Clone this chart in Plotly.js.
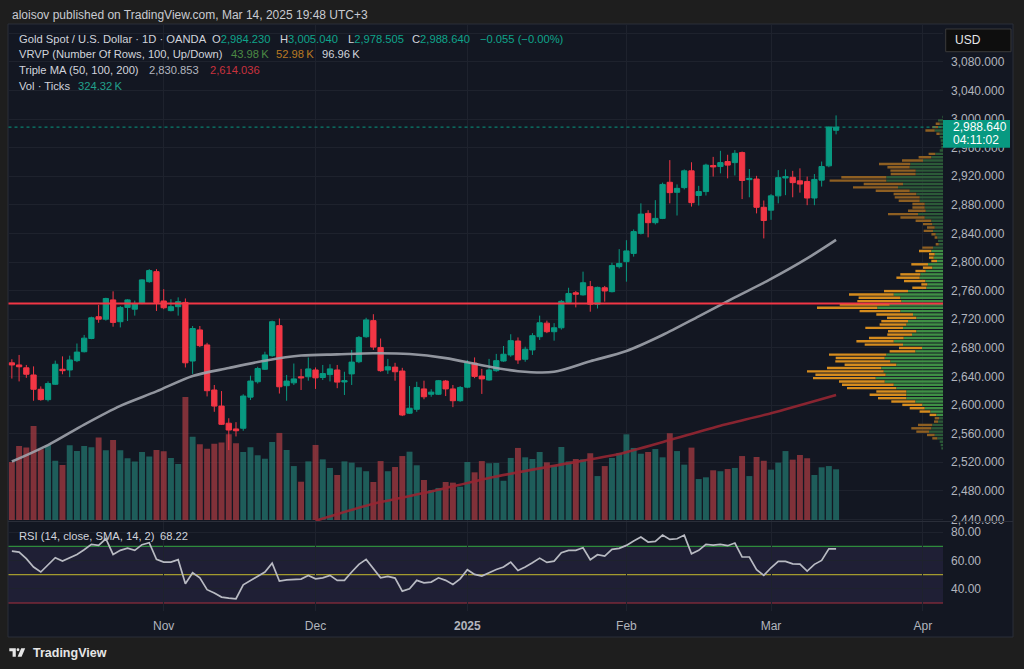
<!DOCTYPE html>
<html><head><meta charset="utf-8">
<script src="https://cdn.plot.ly/plotly-3.0.1.min.js"></script>
<style>html,body{margin:0;padding:0;background:#1e1e1e;overflow:hidden}#chart{width:1024px;height:669px}</style>
</head><body><div id="chart"></div>
<script>
// ---------------- DATA ----------------
const holidays = ['2024-12-25', '2025-01-01'];
const firstBar = '2024-10-03';
const monthKeys = ['2024-11', '2024-12', '2025-01', '2025-02', '2025-03', '2025-04'];
const monthLabels = ['Nov', 'Dec', '<b>2025</b>', 'Feb', 'Mar', 'Apr'];

const open = [
2659, 2656, 2652, 2642, 2622, 2607.5, 2629, 2650, 2649, 2662,
2674.5, 2693, 2723.5, 2720, 2747, 2716.5, 2736.5, 2734, 2742, 2772.5,
2786.5, 2745.5, 2732, 2737.5, 2743.5, 2661.5, 2705, 2684, 2621, 2598.5,
2574.5, 2566.5, 2567.5, 2611, 2632.5, 2650, 2669, 2711, 2627, 2631,
2639.5, 2639.5, 2649, 2638.5, 2642.5, 2649, 2632.2, 2643.5, 2660.5, 2695.5,
2718, 2680.5, 2649, 2653, 2647.5, 2588.5, 2594, 2622.5, 2615, 2615,
2633.5, 2622.5, 2606, 2625, 2658.5, 2640.5, 2635, 2648, 2661.5, 2670,
2689.5, 2664, 2677, 2695.5, 2714.5, 2702.5, 2708, 2743.5, 2757, 2754,
2765.5, 2741, 2764, 2758.5, 2793.5, 2800.5, 2812, 2840, 2868, 2855,
2861, 2911.5, 2897.5, 2904, 2927.5, 2893, 2898.5, 2935, 2933.5, 2940.5,
2939, 2953, 2915.2, 2916, 2876.5, 2872.5, 2892.5, 2917.5, 2918.5, 2913.5,
2912.5, 2889.5, 2914.5, 2934.5, 2984.230];
const high = [
2664, 2670, 2656, 2654, 2626, 2633, 2662, 2668, 2669, 2686,
2698, 2723.5, 2740, 2750, 2759, 2738.5, 2748, 2746, 2776, 2790,
2790, 2762, 2748, 2750.5, 2749, 2710.5, 2710.5, 2687, 2628, 2619.5,
2581.5, 2576, 2615, 2641, 2653.5, 2674.5, 2718, 2721, 2642, 2658,
2650.5, 2666.5, 2652.5, 2656, 2657, 2656, 2646.5, 2677, 2696.5, 2722,
2727, 2693, 2664.5, 2659, 2652, 2626.5, 2632.5, 2634, 2622, 2635,
2635, 2628, 2626.5, 2663, 2666.5, 2650.5, 2664.5, 2671.5, 2682.5, 2699,
2694.5, 2681.5, 2700.5, 2725, 2718, 2714.5, 2747, 2764, 2759.5, 2786.5,
2773.5, 2765.5, 2766.5, 2799, 2818, 2830.5, 2845.5, 2882, 2872.5, 2886.5,
2911, 2942.5, 2908.5, 2929.5, 2939.5, 2906.5, 2937.5, 2947, 2955.5, 2950,
2956.5, 2954.5, 2930, 2920.5, 2886, 2895, 2928.5, 2929.5, 2927.5, 2931,
2919.5, 2923, 2940.5, 2989.5, 3005.040];
const low = [
2637, 2633, 2638, 2606, 2606, 2605, 2628, 2643, 2639, 2660,
2673.5, 2692, 2715, 2718, 2709.5, 2708.5, 2717.5, 2725, 2741, 2771,
2731.5, 2734, 2731, 2725, 2652.5, 2643.5, 2681, 2612, 2590.5, 2572,
2537, 2556, 2564, 2607, 2630, 2649, 2667.5, 2616, 2606, 2628,
2621, 2634, 2622.5, 2635, 2633, 2623.5, 2614, 2628, 2658.5, 2694,
2677, 2646.5, 2643.5, 2634, 2584.5, 2587.5, 2590.5, 2608, 2611.5, 2614,
2612.5, 2597, 2604.5, 2623.5, 2637.5, 2615.5, 2634, 2646.5, 2660.5, 2667.5,
2657.5, 2660.5, 2670, 2691, 2700.5, 2690, 2705.5, 2742, 2736.5, 2753,
2730.5, 2735, 2744.5, 2757.5, 2791, 2772.5, 2807.5, 2838.5, 2834.5, 2852.5,
2860, 2882, 2865, 2901.5, 2877.5, 2879, 2893, 2919.5, 2924, 2917,
2921, 2888, 2890.5, 2868, 2833, 2859, 2882, 2893.5, 2890.5, 2897,
2879.5, 2879.5, 2905.5, 2932.5, 2978.505];
const close = [
2656, 2653.5, 2643, 2622, 2607.5, 2630, 2657, 2648, 2663, 2674,
2693.5, 2722, 2720, 2749, 2715.5, 2736.5, 2747, 2742, 2775, 2788,
2743.5, 2736, 2737.5, 2744.5, 2659, 2707, 2683, 2620, 2598.5, 2573,
2565, 2564, 2612.5, 2633.5, 2651, 2670, 2716.5, 2625.5, 2633.5, 2636.5,
2638, 2650.5, 2638, 2644, 2650.5, 2632, 2634, 2660, 2694.5, 2719,
2681, 2648, 2653.5, 2646.5, 2586, 2595.5, 2624.5, 2611.5, 2618, 2634,
2622.5, 2606, 2624.5, 2659, 2640, 2636.5, 2649, 2662, 2671, 2690,
2663, 2678, 2697, 2715, 2702.5, 2708, 2745, 2756, 2755, 2771,
2741, 2764.5, 2759.5, 2795, 2798, 2815.5, 2842.5, 2867, 2855, 2861,
2908.5, 2897, 2903, 2927.5, 2883, 2898.5, 2935.5, 2933, 2939, 2935.5,
2952, 2914, 2917, 2876.5, 2858, 2892.5, 2918, 2919.5, 2911, 2909,
2889.5, 2915.5, 2933.5, 2988.695, 2988.640];
// Volume (ticks, thousands)
const volume = [
371, 474, 463, 601, 452, 480, 379, 352, 478, 441,
473, 465, 527, 446, 512, 446, 395, 375, 435, 407,
448, 439, 397, 358, 787, 533, 484, 456, 488, 495,
548, 491, 435, 465, 414, 392, 499, 557, 448, 345,
245, 375, 480, 388, 333, 288, 375, 367, 337, 312,
243, 377, 312, 339, 409, 437, 350, 256, 192, 205,
243, 239, 213, 371, 305, 377, 363, 365, 251, 397,
461, 401, 390, 435, 369, 350, 467, 375, 390, 388,
427, 281, 345, 397, 429, 548, 461, 424, 435, 454,
401, 555, 441, 354, 463, 262, 273, 318, 312, 326,
333, 409, 281, 403, 379, 322, 367, 441, 386, 416,
395, 288, 337, 345, 324.32];
// RSI(14)
const rsi = [
66.7, 66.0, 61.3, 55.4, 51.9, 57.3, 62.0, 59.6, 62.0, 64.3,
67.6, 71.4, 70.7, 75.4, 64.3, 67.2, 68.8, 67.2, 71.2, 72.6,
60.8, 58.9, 58.9, 60.6, 43.6, 51.4, 47.8, 39.4, 37.0, 34.2,
33.5, 33.0, 42.9, 46.0, 48.8, 51.9, 58.2, 45.5, 46.4, 46.7,
46.9, 49.5, 47.1, 47.8, 49.5, 46.0, 46.0, 51.9, 57.3, 60.8,
54.2, 47.8, 48.8, 47.6, 38.4, 40.1, 46.0, 44.3, 44.8, 47.8,
46.0, 43.1, 47.1, 53.5, 50.2, 49.0, 51.4, 53.7, 55.4, 58.9,
53.0, 55.4, 58.4, 61.7, 58.7, 59.6, 65.5, 67.2, 67.2, 69.0,
60.6, 64.1, 63.2, 67.9, 68.6, 70.7, 73.8, 76.6, 73.1, 73.5,
78.0, 74.9, 75.4, 78.0, 64.8, 67.2, 71.4, 70.9, 71.4, 70.5,
72.4, 62.5, 62.5, 53.5, 49.5, 54.9, 59.4, 59.4, 57.7, 57.5,
52.6, 57.3, 60.1, 68.3, 68.22];
// Moving averages read at sample bars (bar offset from first visible bar)
const ma50Bars = [0, 5, 10, 15, 20, 25, 30, 35, 40, 45, 50, 55, 60, 65, 70, 75, 80, 85, 90, 95, 100, 105, 110, 114];
const ma50 = [2521, 2544, 2572.6, 2598.8, 2619, 2640.6, 2651.7, 2662, 2669.2, 2670.8, 2672.3, 2671.3, 2665.6, 2655.7, 2647.3, 2646.4, 2661.2, 2675.5, 2697.9, 2724, 2750.4, 2776.3, 2805, 2830.853];
const ma100Bars = [42, 50, 58, 66, 75, 84, 91, 98, 105, 114];
const ma100 = [2438, 2462, 2479, 2498, 2515, 2531.5, 2551, 2571, 2588.5, 2614.036];
// Visible-range volume profile (100 rows, top row first): up / down volume
const vpUp = [
0.7, 5, 3.3, 5, 8.3, 3.3, 3.3, 2.3, 1.7, 1.7,
3.3, 7.7, 11.7, 20, 32.7, 33.3, 27.3, 27.3, 56.7, 56.7,
40, 45, 33.3, 26.7, 23.3, 23.3, 18.3, 18.3, 17.3, 25,
18.3, 11.7, 10.7, 8.3, 10, 7.3, 5.7, 5, 4.3, 10,
11.7, 8.3, 9.3, 6, 15, 10.7, 17.3, 22.7, 23.3, 17.7,
15.7, 16.7, 35, 49.3, 42.7, 41.7, 53.3, 65.7, 42.7, 30,
26.7, 35, 36.7, 40, 26.7, 31, 39.3, 49.3, 40, 21,
27.7, 56.7, 58.3, 52.7, 46.7, 61.7, 59.3, 57.3, 67.3, 58.3,
49.3, 46.7, 36.7, 36.7, 36.7, 27.7, 20.7, 18.3, 12.7, 6.7,
4, 5, 10.7, 11.7, 14, 8.3, 5.7, 3.3, 2.3, 1.7];
const vpDown = [
0, 0, 4, 5.7, 9.3, 3.3, 0, 0, 0, 0,
0, 6.7, 12.7, 21, 31.3, 22.3, 25.3, 25, 45, 56.7,
39.3, 45, 34, 22.7, 25, 21, 12.3, 12.3, 17.7, 30,
24.3, 15.7, 9.3, 7.7, 9.3, 4.3, 2.7, 0, 3, 10.7,
12.3, 5.7, 4.7, 5.7, 16.7, 9.3, 10.3, 20, 23.3, 21.3,
6, 14, 24, 44.7, 41.7, 44, 50, 60.3, 40.7, 36.7,
29.3, 26.7, 26.7, 37.7, 28.3, 24.7, 34.7, 37.3, 38.3, 23,
25.7, 57.3, 49, 55, 51.7, 54.3, 76.7, 70.3, 62.7, 45.7,
51.7, 49.3, 30, 36.7, 28.3, 24, 20, 15, 10.7, 6.7,
4.3, 4, 14.3, 20, 12.7, 7.7, 5, 0, 0, 0];
const vrvpLegend = ['43.98\u2009K', '52.98\u2009K', '96.96\u2009K'];
const hLinePrice = 2742;
const priceTicks = [2440, 2480, 2520, 2560, 2600, 2640, 2680, 2720, 2760, 2800, 2840, 2880, 2920, 2960, 3000, 3040, 3080, 3120];
const rsiTicks = [40, 60, 80];
const rsiLevels = [70, 50, 30];
const countdown = '04:11:02';

// ---------------- calendar / helpers ----------------
function buildCalendar(from, to, skip) {
  const out = []; const d = new Date(from + 'T00:00:00Z'); const end = new Date(to + 'T00:00:00Z');
  while (d <= end) { const wd = d.getUTCDay(); const s = d.toISOString().slice(0, 10);
    if (wd !== 0 && wd !== 6 && skip.indexOf(s) < 0) out.push(s); d.setUTCDate(d.getUTCDate() + 1); }
  return out;
}
const calendar = buildCalendar('2024-10-01', '2025-04-30', holidays);
const x0 = calendar.indexOf(firstBar);
const xs = open.map((_, k) => x0 + k);
const monthIdx = monthKeys.map(m => calendar.findIndex(d => d.slice(0, 7) === m));
const n = close.length;

const W = 1024, H = 669;
const PX = x => x / W, PY = y => 1 - y / H;
const UP = '#089981', DN = '#f23645';
const GRID = '#1e222d';
const TXT = '#d1d4dc', AX = '#b2b5be';
const FONT = 'Liberation Sans, Arial, sans-serif';
const fmt = (v, d) => v.toLocaleString('en-US', { minimumFractionDigits: d, maximumFractionDigits: d });

// pane geometry (pixels)
const paneL = 8.5, paneR = 943, mainTop = 24, mainBot = 521, rsiTop = 522, rsiBot = 611;
const pxPerUnit = 0.715, refPrice = 3000, refY = 119;
const priceAt = y => refPrice - (y - refY) / pxPerUnit;
const rsiPx = 1.415, rsiRefY = 574.7;
const rsiAt = y => 50 - (y - rsiRefY) / rsiPx;
const volPx = 6.397;
const barPx = 7.23, novX = 163.7;
const idxAt = x => monthIdx[0] + (x - novX) / barPx;

// ---------------- traces ----------------
const volColors = close.map((c, i) => c >= open[i] ? 'rgba(34,120,112,0.72)' : 'rgba(170,60,66,0.72)');
const traces = [];
traces.push({ type: 'bar', x: xs, y: volume, xaxis: 'x', yaxis: 'y', width: 0.82,
  marker: { color: volColors, line: { width: 0 } }, hoverinfo: 'skip' });
traces.push({ type: 'candlestick', x: xs, open: open, high: high, low: low, close: close, xaxis: 'x', yaxis: 'y2',
  increasing: { line: { color: UP, width: 1 }, fillcolor: UP },
  decreasing: { line: { color: DN, width: 1 }, fillcolor: DN }, whiskerwidth: 0, hoverinfo: 'skip' });
traces.push({ type: 'scatter', mode: 'lines', x: ma50Bars.map(b => x0 + b), y: ma50, xaxis: 'x', yaxis: 'y2',
  line: { color: 'rgba(160,163,172,0.9)', width: 2.6, shape: 'spline', smoothing: 0.8 }, hoverinfo: 'skip' });
traces.push({ type: 'scatter', mode: 'lines', x: ma100Bars.map(b => x0 + b), y: ma100, xaxis: 'x', yaxis: 'y2',
  line: { color: 'rgba(150,38,50,0.9)', width: 2.6, shape: 'spline', smoothing: 0.6 }, hoverinfo: 'skip' });

// volume profile rows
const vpHigh = Math.max.apply(null, high), vpLow = Math.min.apply(null, low);
const rows = vpUp.length, rowH = (vpHigh - vpLow) / rows;
const rowPrice = vpUp.map((_, r) => vpHigh - (r + 0.5) * rowH);
const tot = vpUp.map((u, r) => u + vpDown[r]);
const totalVol = tot.reduce((a, b) => a + b, 0);
let poc = tot.indexOf(Math.max.apply(null, tot));
let lo = poc, hi = poc, acc = tot[poc];
while (acc < 0.7 * totalVol && (lo > 0 || hi < rows - 1)) {
  const a = lo > 0 ? tot[lo - 1] : -1, b = hi < rows - 1 ? tot[hi + 1] : -1;
  if (a >= b) { lo--; acc += tot[lo]; } else { hi++; acc += tot[hi]; }
}
const inVA = r => r >= lo && r <= hi;
traces.push({ type: 'bar', orientation: 'h', y: rowPrice, x: vpUp, base: 0, width: rowH * 0.72,
  xaxis: 'x2', yaxis: 'y2', marker: { color: rowPrice.map((_, r) => inVA(r) ? '#3f8f45' : '#2c5a38'), line: { width: 0 } }, hoverinfo: 'skip' });
traces.push({ type: 'bar', orientation: 'h', y: rowPrice, x: vpDown, base: vpUp, width: rowH * 0.72,
  xaxis: 'x2', yaxis: 'y2', marker: { color: rowPrice.map((_, r) => inVA(r) ? '#d68c1e' : '#8e5f22'), line: { width: 0 } }, hoverinfo: 'skip' });

traces.push({ type: 'scatter', mode: 'lines', x: xs, y: rsi, xaxis: 'x', yaxis: 'y3',
  line: { color: '#b8bac2', width: 1.7 }, hoverinfo: 'skip' });

// ---------------- layout ----------------
const shapes = [];
shapes.push({ type: 'rect', xref: 'paper', yref: 'paper', x0: PX(8), x1: PX(1013), y0: PY(637), y1: PY(24),
  fillcolor: '#131722', line: { color: '#2a2e39', width: 1 }, layer: 'below' });
shapes.push({ type: 'rect', xref: 'paper', yref: 'y3', x0: PX(paneL), x1: PX(paneR), y0: 30, y1: 70,
  fillcolor: 'rgba(126,87,194,0.12)', line: { width: 0 }, layer: 'below' });
const lvlColors = ['#2f8a3c', '#a39a2e', '#a8303f'];
rsiLevels.forEach((v, k) => shapes.push({ type: 'line', xref: 'paper', yref: 'y3', x0: PX(paneL), x1: PX(paneR), y0: v, y1: v,
  line: { color: lvlColors[k], width: 1.2 }, layer: 'below' }));
shapes.push({ type: 'line', xref: 'paper', yref: 'paper', x0: PX(8), x1: PX(1013), y0: PY(521.5), y1: PY(521.5),
  line: { color: '#2a2e39', width: 1 } });
shapes.push({ type: 'line', xref: 'paper', yref: 'y2', x0: PX(paneL), x1: PX(paneR), y0: hLinePrice, y1: hLinePrice,
  line: { color: '#f23645', width: 2 } });
const last = close[n - 1];
shapes.push({ type: 'line', xref: 'paper', yref: 'y2', x0: PX(paneL), x1: PX(paneR), y0: last, y1: last,
  line: { color: UP, width: 1, dash: 'dot' } });
shapes.push({ type: 'rect', xref: 'paper', yref: 'paper', x0: PX(943), x1: PX(1010), y0: PY(147.7), y1: PY(120),
  fillcolor: UP, line: { width: 0 } });
shapes.push({ type: 'rect', xref: 'paper', yref: 'paper', x0: PX(945.7), x1: PX(1011), y0: PY(51.7), y1: PY(29),
  fillcolor: '#0e0e0e', line: { color: '#3a3a3a', width: 1 } });
// TradingView logo
const P = (x, y) => PX(x).toFixed(5) + ',' + PY(y).toFixed(5);
shapes.push({ type: 'path', xref: 'paper', yref: 'paper', fillcolor: '#e6e6e6', line: { width: 0 },
  path: 'M' + P(9.3, 648.3) + 'L' + P(15.8, 648.3) + 'L' + P(15.8, 656.8) + 'L' + P(12.6, 656.8) + 'L' + P(12.6, 651.2) + 'L' + P(9.3, 651.2) + 'Z' });
shapes.push({ type: 'circle', xref: 'paper', yref: 'paper', fillcolor: '#e6e6e6', line: { width: 0 },
  x0: PX(16.6), x1: PX(19.4), y0: PY(651.2), y1: PY(648.3) });
shapes.push({ type: 'path', xref: 'paper', yref: 'paper', fillcolor: '#e6e6e6', line: { width: 0 },
  path: 'M' + P(21.2, 648.3) + 'L' + P(25.2, 648.3) + 'L' + P(21.6, 656.8) + 'L' + P(17.6, 656.8) + 'Z' });

const ann = [];
function A(x, y, text, size, color, extra) {
  ann.push(Object.assign({ xref: 'paper', yref: 'paper', x: PX(x), y: PY(y), xanchor: 'left', yanchor: 'middle',
    text: text, showarrow: false, font: { family: FONT, size: size, color: color } }, extra || {}));
}
A(9.6, 15, 'aloisov published on TradingView.com, Mar 14, 2025 19:48 UTC+3', 12, '#c9cbd1');
const G = '#0fa38a';
A(17, 39.3, 'Gold Spot / U.S. Dollar \u00b7 1D \u00b7 OANDA', 11.2, TXT);
A(209.7, 39.3, 'O<span style="color:' + G + '">' + fmt(open[n - 1], 3) + '</span>', 11.2, TXT);
A(277.5, 39.3, 'H<span style="color:' + G + '">' + fmt(high[n - 1], 3) + '</span>', 11.2, TXT);
A(345.6, 39.3, 'L<span style="color:' + G + '">' + fmt(low[n - 1], 3) + '</span>', 11.2, TXT);
A(409.5, 39.3, 'C<span style="color:' + G + '">' + fmt(close[n - 1], 3) + '</span>', 11.2, TXT);
const chg = close[n - 1] - close[n - 2];
const chgTxt = (chg < 0 ? '\u2212' : '+') + fmt(Math.abs(chg), 3) + ' (' + (chg < 0 ? '\u2212' : '+') + fmt(Math.abs(chg / close[n - 2] * 100), 2) + '%)';
A(477.6, 39.3, chgTxt, 11.2, G);
A(17, 54, 'VRVP (Number Of Rows, 100, Up/Down)', 11.2, TXT);
A(228.5, 54, vrvpLegend[0], 11.2, '#4b8a44');
A(274.4, 54, vrvpLegend[1], 11.2, '#b87a22');
A(320.3, 54, vrvpLegend[2], 11.2, TXT);
A(17, 70, 'Triple MA (50, 100, 200)', 11.2, TXT);
A(147.3, 70, fmt(ma50[ma50.length - 1], 3), 11.2, AX);
A(207.8, 70, fmt(ma100[ma100.length - 1], 3), 11.2, '#c8323e');
A(17, 86, 'Vol \u00b7 Ticks', 11.2, TXT);
A(75.8, 86, fmt(volume[n - 1], 2) + '\u2009K', 11.2, '#22a08c');
A(17, 536, 'RSI (14, close, SMA, 14, 2)', 11.2, TXT);
A(158.3, 536, fmt(rsi[n - 1], 2), 11.2, TXT);
A(950.5, 126.7, fmt(last, 3), 12, '#ffffff');
A(950.5, 139.8, countdown, 12, '#ffffff');
A(953, 40.5, 'USD', 12, '#e8e8e8');
A(30.5, 653.3, '<b>TradingView</b>', 12.5, '#e6e6e6');

const layout = {
  width: W, height: H, margin: { l: 0, r: 0, t: 0, b: 0, pad: 0 },
  paper_bgcolor: '#1e1e1e', plot_bgcolor: '#131722', showlegend: false,
  font: { family: FONT, color: AX, size: 12 },
  boxgap: 0.27, boxgroupgap: 0, barmode: 'overlay', hovermode: false,
  xaxis: { domain: [PX(paneL), PX(paneR)], range: [idxAt(paneL), idxAt(paneR)], anchor: 'y3',
    tickmode: 'array', tickvals: monthIdx, ticktext: monthLabels, ticks: '', showgrid: true, gridcolor: GRID,
    zeroline: false, showline: false, tickfont: { size: 12, color: AX }, ticklabelstandoff: 6,
    rangeslider: { visible: false }, fixedrange: true },
  xaxis2: { overlaying: 'x', anchor: 'y2', range: [paneR - paneL, 0], visible: false, fixedrange: true },
  yaxis: { domain: [PY(mainBot), PY(mainTop)], range: [-volPx, (mainBot - mainTop - 1) * volPx], visible: false, fixedrange: true },
  yaxis2: { overlaying: 'y', side: 'right', anchor: 'x', range: [priceAt(mainBot), priceAt(mainTop)],
    tickmode: 'array', tickvals: priceTicks, ticktext: priceTicks.map(v => v >= 3120 ? '' : fmt(v, 3)),
    ticks: '', showgrid: true, gridcolor: GRID, zeroline: false, showline: false,
    tickfont: { size: 12, color: AX }, ticklabelstandoff: 7, fixedrange: true },
  yaxis3: { domain: [PY(rsiBot), PY(rsiTop)], anchor: 'x', side: 'right', range: [rsiAt(rsiBot), rsiAt(rsiTop)],
    tickmode: 'array', tickvals: rsiTicks, ticktext: rsiTicks.map(v => fmt(v, 2)), ticks: '',
    showgrid: true, gridcolor: GRID, zeroline: false, showline: false,
    tickfont: { size: 12, color: AX }, ticklabelstandoff: 7, fixedrange: true },
  shapes: shapes, annotations: ann
};
Plotly.newPlot('chart', traces, layout, { staticPlot: true, displayModeBar: false });
</script></body></html>
